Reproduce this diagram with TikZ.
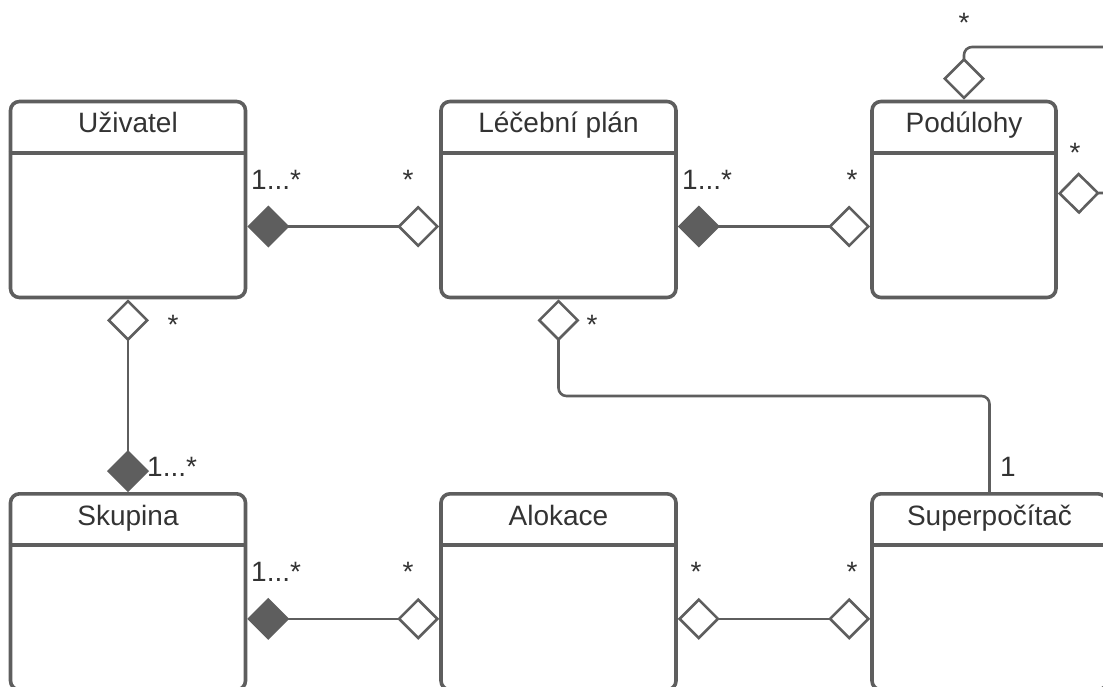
\documentclass[tikz,border=0pt]{standalone}
\usepackage{fontspec}
\setmainfont{Liberation Sans}
\usetikzlibrary{arrows.meta}

\definecolor{linegrey}{HTML}{5E5E5E}
\definecolor{textgrey}{HTML}{333333}

\tikzset{
    comp/.tip = {Diamond[fill=linegrey, length=42pt, width=42pt]},
    aggr/.tip = {Diamond[open, length=42pt, width=42pt]},
}

\begin{document}
\begin{tikzpicture}[x=1pt, y=-1pt, font=\fontsize{28}{33}\selectfont, text=textgrey,
        klass/.style = {draw=linegrey, line width=3.6pt, rounded corners=9pt, minimum height=196pt, inner sep=0pt},
        title/.style = {anchor=base},
        mult/.style = {anchor=base west, inner sep=0pt},
        star/.style = {anchor=base, inner sep=0pt},
        conn/.style = {draw=linegrey, line width=2.6pt}]

        \useasboundingbox (0,0) rectangle (1103,686);
        \clip (0,0) rectangle (1103,686);

        % classes: name / x / y / width / title
        \foreach \nm/\cx/\cy/\w/\ttl in {
                uziv/128/199.5/235/Uživatel,
                plan/558.5/199.5/235/Léčební plán,
                podul/964/199.5/184/Podúlohy,
                skup/128/591.8/235/Skupina,
                alok/558.5/591.8/235/Alokace,
                superpc/989.5/591.8/235/Superpočítač} {
            \node[klass, minimum width=\w pt] (\nm) at (\cx,\cy) {};
            \node[title] (\nm-title) at ([yshift=-33pt]\nm.north) {\ttl};
            \draw[draw=linegrey, line width=3.6pt] ([yshift=-53pt]\nm.north west) -- ([yshift=-53pt]\nm.north east);
        }

        \coordinate (bend) at (0,396);
        \coordinate (edgetop) at (1103,47);
        \coordinate (edgeright) at (1103,193);

        % associations
        \draw[conn, comp-aggr] ([yshift=-27pt]uziv.east) -- ([yshift=-27pt]plan.west);
        \draw[conn, comp-aggr] ([yshift=-27pt]plan.east) -- ([yshift=-27pt]podul.west);
        \draw[conn, aggr-comp] (uziv.south) -- (skup.north);
        \draw[conn, comp-aggr] ([yshift=-27pt]skup.east) -- ([yshift=-27pt]alok.west);
        \draw[conn, aggr-aggr] ([yshift=-27pt]alok.east) -- ([yshift=-27pt]superpc.west);
        \draw[conn, aggr-, rounded corners=8pt] (plan.south) -- (plan.south |- bend) -| (superpc.north);
        \draw[conn, aggr-, rounded corners=8pt] (podul.north) |- (edgetop);
        \draw[conn, aggr-] ([yshift=6pt]podul.east) -- (edgeright);

        % multiplicities
        \node[mult] (m-uziv) at (251,189) {1...*};
        \node[star] (m-plan-l) at (408,189) {*};
        \node[mult] (m-plan-r) at (682,189) {1...*};
        \node[star] (m-podul-l) at (852,189) {*};
        \node[star] (m-podul-t) at (964,32) {*};
        \node[star] (m-podul-r) at (1075,162) {*};
        \node[star] (m-uziv-b) at (173,334) {*};
        \node[mult] (m-skup-t) at (147,476) {1...*};
        \node[star] (m-plan-b) at (592,334) {*};
        \node[mult] (m-superpc-t) at (1000,476) {1};
        \node[mult] (m-skup) at (251,581) {1...*};
        \node[star] (m-alok-l) at (408,581) {*};
        \node[star] (m-alok-r) at (696,581) {*};
        \node[star] (m-superpc-l) at (852,581) {*};

\end{tikzpicture}
\end{document}
